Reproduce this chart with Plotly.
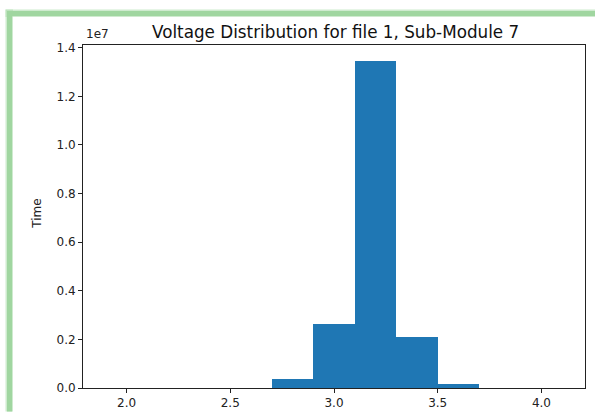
import plotly.graph_objects as go

# Histogram data (bin centers, bin width 0.2, counts)
bin_centers = [2.0, 2.2, 2.4, 2.6, 2.8, 3.0, 3.2, 3.4, 3.6, 3.8, 4.0]
counts = [0, 0, 0, 0, 390000, 2650000, 13440000, 2100000, 180000, 0, 0]
x_ticks = [2.0, 2.5, 3.0, 3.5, 4.0]
x_tick_labels = ["2.0", "2.5", "3.0", "3.5", "4.0"]
y_ticks = [0, 0.2e7, 0.4e7, 0.6e7, 0.8e7, 1.0e7, 1.2e7, 1.4e7]
y_tick_labels = ["0.0", "0.2", "0.4", "0.6", "0.8", "1.0", "1.2", "1.4"]
title_text = "Voltage Distribution for file 1, Sub-Module 7"

W, H = 595, 412
L, R, T, B = 83, 10, 45, 23.5
pw, ph = W - L - R, H - T - B

def px(x):
    return (x - L) / pw

def py(y):
    return (H - B - y) / ph

fig = go.Figure()
fig.add_trace(go.Bar(x=bin_centers, y=counts, width=0.2,
                     marker=dict(color="#1f77b4", line=dict(width=0))))

font = "DejaVu Sans, sans-serif"
axis_common = dict(showgrid=False, zeroline=False, showline=True, mirror=True,
                   linecolor="#222222", linewidth=1, ticks="outside", ticklen=4,
                   tickcolor="#222222", tickwidth=1, automargin=False,
                   tickfont=dict(family=font, size=12, color="#222222"))

fig.update_layout(
    width=W, height=H,
    margin=dict(l=L, r=R, t=T, b=B, pad=0, autoexpand=False),
    paper_bgcolor="white", plot_bgcolor="white",
    showlegend=False, bargap=0,
    xaxis=dict(range=[1.79, 4.21], tickvals=x_ticks, ticktext=x_tick_labels, **axis_common),
    yaxis=dict(range=[0, 1.4112e7], tickvals=y_ticks, ticktext=y_tick_labels, **axis_common),
)

shapes = [
    # green card border (left and top)
    dict(type="rect", xref="paper", yref="paper", x0=px(5.5), x1=px(13), y0=py(412), y1=py(9.5),
         fillcolor="rgba(175,222,175,0.6)", line=dict(width=0), layer="below"),
    dict(type="rect", xref="paper", yref="paper", x0=px(5.5), x1=px(595), y0=py(17), y1=py(9.5),
         fillcolor="rgba(175,222,175,0.6)", line=dict(width=0), layer="below"),
    dict(type="rect", xref="paper", yref="paper", x0=px(7), x1=px(12), y0=py(412), y1=py(11),
         fillcolor="rgb(160,214,160)", line=dict(width=0), layer="below"),
    dict(type="rect", xref="paper", yref="paper", x0=px(7), x1=px(595), y0=py(16), y1=py(11),
         fillcolor="rgb(160,214,160)", line=dict(width=0), layer="below"),
]
fig.update_layout(shapes=shapes)

fig.add_annotation(text=title_text, xref="paper", yref="paper", x=px(335), y=py(32),
                   xanchor="center", yanchor="middle", showarrow=False,
                   font=dict(family=font, size=16.8, color="#111111"))
fig.add_annotation(text="Time", xref="paper", yref="paper", x=px(37), y=py(214),
                   xanchor="center", yanchor="middle", textangle=-90, showarrow=False,
                   font=dict(family=font, size=12, color="#222222"))
fig.add_annotation(text="1e7", xref="paper", yref="paper", x=px(84), y=py(43),
                   xanchor="left", yanchor="bottom", showarrow=False,
                   font=dict(family=font, size=12, color="#222222"))

fig.write_html("out.html")
